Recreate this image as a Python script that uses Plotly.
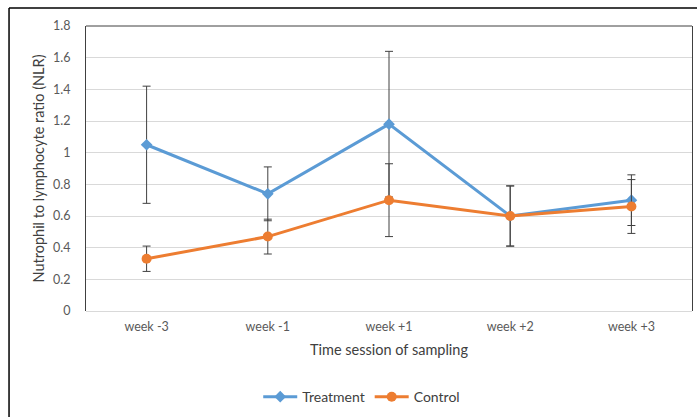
import plotly.graph_objects as go

categories = ["week -3", "week -1", "week +1", "week +2", "week +3"]
treatment = [1.05, 0.74, 1.18, 0.60, 0.70]
treatment_err = [0.37, 0.17, 0.46, 0.19, 0.16]
control = [0.33, 0.47, 0.70, 0.60, 0.66]
control_err = [0.08, 0.11, 0.23, 0.19, 0.17]
y_ticks = [0, 0.2, 0.4, 0.6, 0.8, 1, 1.2, 1.4, 1.6, 1.8]
y_ticktext = ["0", "0.2", "0.4", "0.6", "0.8", "1", "1.2", "1.4", "1.6", "1.8"]

FONT = "Lato, Open Sans, sans-serif"
GRAY = "#595959"

fig = go.Figure()
fig.add_trace(go.Scatter(
    x=categories, y=treatment, name="Treatment", mode="lines+markers",
    line=dict(color="#5B9BD5", width=3),
    marker=dict(symbol="diamond", size=9, color="#5B9BD5"),
    error_y=dict(type="data", array=treatment_err, visible=True,
                 color="#404040", thickness=1, width=4),
))
fig.add_trace(go.Scatter(
    x=categories, y=control, name="Control", mode="lines+markers",
    line=dict(color="#ED7D31", width=3),
    marker=dict(symbol="circle", size=10, color="#ED7D31"),
    error_y=dict(type="data", array=control_err, visible=True,
                 color="#404040", thickness=1, width=4),
))

fig.update_layout(
    width=697, height=417,
    margin=dict(l=86, r=5, t=26, b=106, autoexpand=False),
    paper_bgcolor="white", plot_bgcolor="white",
    font=dict(family=FONT, size=12, color=GRAY),
    showlegend=True,
    legend=dict(orientation="h", x=0.455, xanchor="center", y=-0.302, yanchor="middle",
                font=dict(size=14, color="#404040"), itemwidth=34, bgcolor="rgba(0,0,0,0)"),
    xaxis=dict(
        type="category", showgrid=False, showline=False, zeroline=False, automargin=False,
        ticks="", ticklabelstandoff=6, tickfont=dict(size=12.5, color=GRAY),
        title=dict(text="Time session of sampling", font=dict(size=14.5, color="#404040"), standoff=12),
        range=[-0.5, 4.5],
    ),
    yaxis=dict(
        range=[0, 1.8], tickvals=y_ticks, ticktext=y_ticktext, automargin=False,
        showgrid=True, gridcolor="#d9d9d9", gridwidth=1,
        zeroline=True, zerolinecolor="#d9d9d9", zerolinewidth=1,
        showline=True, linecolor="#404040", linewidth=1, mirror=True,
        ticks="", ticklabelstandoff=12, tickfont=dict(size=12.5, color=GRAY),
        title=dict(text="Nutrophil to lymphocyte ratio (NLR)", font=dict(size=14.5, color="#404040"), standoff=4),
    ),
    shapes=[
        dict(type="line", xref="paper", yref="paper", x0=0, x1=1, y0=1, y1=1,
             line=dict(color="#404040", width=1)),
        dict(type="line", xref="paper", yref="paper", x0=-0.127, x1=1.01, y0=1.063, y1=1.063,
             line=dict(color="black", width=1.5)),
        dict(type="line", xref="paper", yref="paper", x0=-0.127, x1=-0.127, y0=-0.38, y1=1.063,
             line=dict(color="black", width=1.5)),
    ],
)

fig.write_html(
    "out.html",
    config={"displayModeBar": False},
    post_script="document.body.style.margin='0';document.body.style.overflow='hidden';",
)
